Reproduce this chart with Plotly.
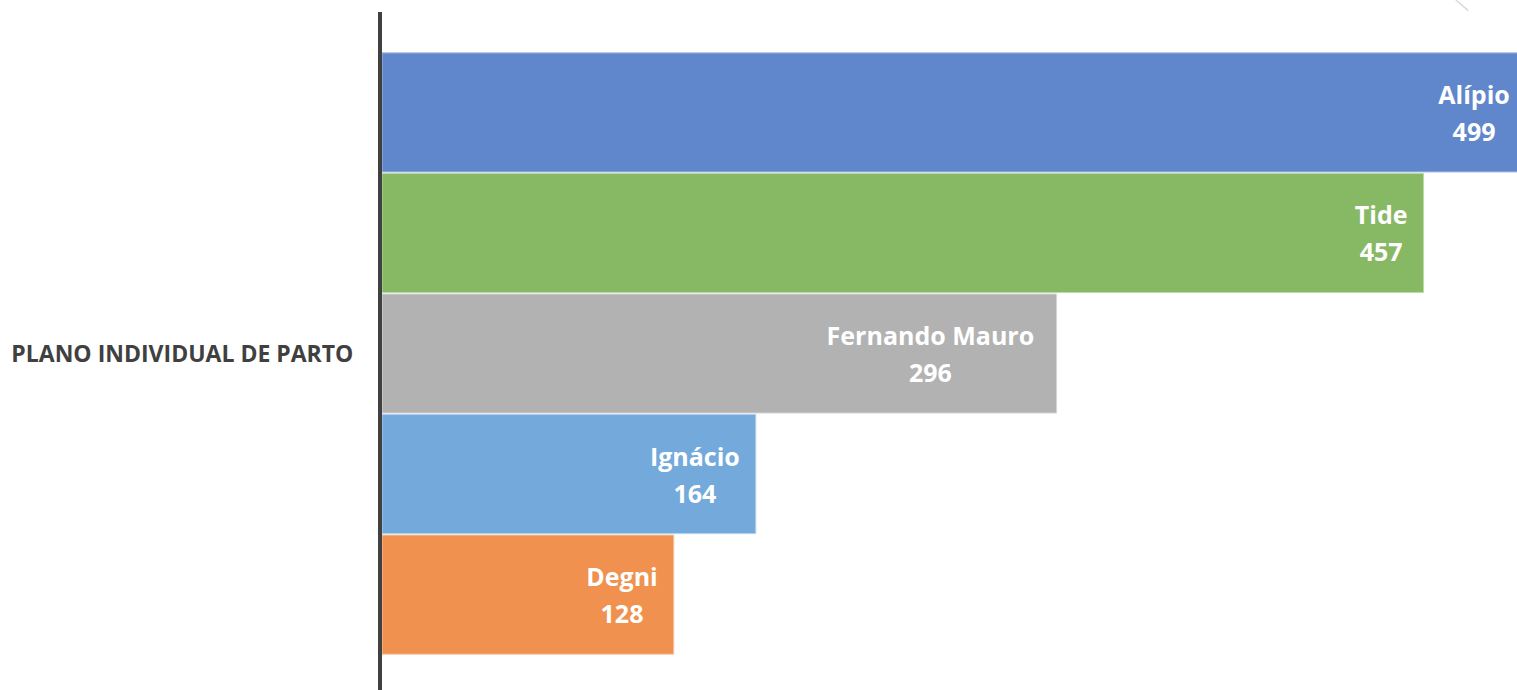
import plotly.graph_objects as go

category = "PLANO INDIVIDUAL DE PARTO"
names = ["Alípio", "Tide", "Fernando Mauro", "Ignácio", "Degni"]
values = [499, 457, 296, 164, 128]

# styling
colors = ["#6086CB", "#87B964", "#B2B2B2", "#73A9DB", "#F0914F"]
edge_colors = ["#A8BCE4", "#BCD9A8", "#D6D6D6", "#B3D1EE", "#F7C5A2"]
label_pad = [1, 2, 3, 2, 2]  # non-breaking spaces after each label

fig = go.Figure()
# plotly stacks grouped horizontal bars bottom-up, so add in reverse
for n, v, c, ec, p in reversed(list(zip(names, values, colors, edge_colors, label_pad))):
    pad = "\u00a0" * p
    fig.add_trace(go.Bar(
        y=[category], x=[v], orientation="h", name=n,
        marker=dict(color=c, line=dict(color=ec, width=1)),
        text=[f"<span style='font-size:25px'>{n}{pad}</span><br>"
              f"<span style='font-size:25px'>{v}{pad}</span>"],
        textposition="inside", insidetextanchor="end",
        textfont=dict(family="Open Sans", size=28.5, color="white", weight="bold"),
        textangle=0, constraintext="none", cliponaxis=True,
        hoverinfo="skip",
    ))

fig.update_layout(
    width=1517, height=690,
    margin=dict(l=382, r=0, t=12, b=0),
    barmode="group", bargap=0.111, bargroupgap=0.012,
    plot_bgcolor="white", paper_bgcolor="white",
    showlegend=False,
    font=dict(family="Open Sans"),
)
fig.update_xaxes(range=[0, 498], visible=False, showgrid=False, zeroline=False)
fig.update_yaxes(
    type="category", range=[-0.4963, 0.5037],
    showline=True, linecolor="#404040", linewidth=4,
    showgrid=False, zeroline=False, ticks="",
    ticklabelstandoff=20,
    tickfont=dict(family="Open Sans", size=23, color="#404040", weight="bold"),
)
fig.add_shape(type="line", xref="paper", yref="paper",
              x0=0.946, y0=1.018, x1=0.957, y1=1.002,
              line=dict(color="#DADADA", width=1.5))

fig.write_html(
    "out.html",
    config={"displayModeBar": False},
    post_script="document.body.style.margin='0';document.body.style.overflow='hidden';",
)
